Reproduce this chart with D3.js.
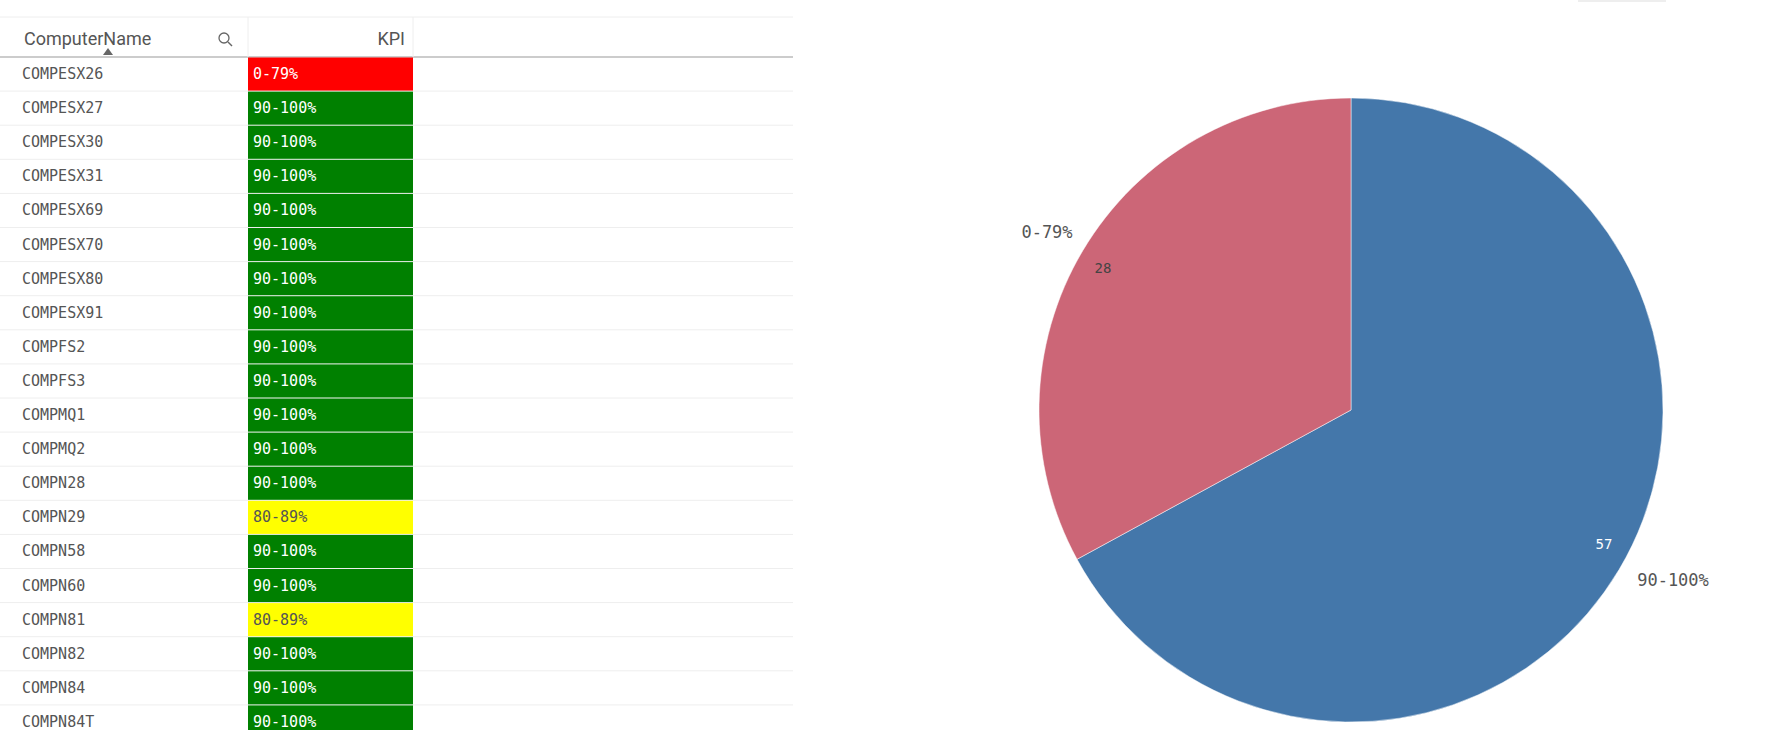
<!DOCTYPE html>
<html><head><meta charset="utf-8">
<script src="https://cdn.jsdelivr.net/npm/d3@7"></script>
<style>body{margin:0;background:#fff;overflow:hidden}</style>
</head><body>
<script>
var names = ['COMPESX26','COMPESX27','COMPESX30','COMPESX31','COMPESX69','COMPESX70','COMPESX80','COMPESX91','COMPFS2','COMPFS3','COMPMQ1','COMPMQ2','COMPN28','COMPN29','COMPN58','COMPN60','COMPN81','COMPN82','COMPN84','COMPN84T'];
var kpis = ['0-79%','90-100%','90-100%','90-100%','90-100%','90-100%','90-100%','90-100%','90-100%','90-100%','90-100%','90-100%','90-100%','80-89%','90-100%','90-100%','80-89%','90-100%','90-100%','90-100%'];
var kpiColors = {'0-79%':'#ff0000','80-89%':'#ffff00','90-100%':'#008000'};
var pieLabels = ['90-100%','0-79%'];
var pieValues = [57, 28];
var pieColors = ['#4477aa','#cc6677'];

var svg = d3.select('body').append('svg').attr('width',1780).attr('height',730);
var mono = 'DejaVu Sans Mono', sans = 'Roboto';

// table
var t = svg.append('g');
var rowH = 34.1, row0 = 57;
t.append('line').attr('x1',0).attr('x2',793).attr('y1',17).attr('y2',17).attr('stroke','#eee');
t.append('line').attr('x1',0).attr('x2',793).attr('y1',row0).attr('y2',row0).attr('stroke','#bbb').attr('stroke-width',1.5);
[248,413].forEach(function(x){ t.append('line').attr('x1',x).attr('x2',x).attr('y1',17).attr('y2',row0).attr('stroke','#eee'); });
t.append('text').attr('x',24).attr('y',45).attr('font-family',sans).attr('font-size',18).attr('fill','#555').text('ComputerName');
t.append('path').attr('d','M103,55 l5,-7 l5,7 z').attr('fill','#666');
t.append('circle').attr('cx',224).attr('cy',38).attr('r',5).attr('fill','none').attr('stroke','#666').attr('stroke-width',1.3);
t.append('line').attr('x1',228).attr('y1',42).attr('x2',232).attr('y2',46).attr('stroke','#666').attr('stroke-width',1.5);
t.append('text').attr('x',405).attr('y',45).attr('text-anchor','end').attr('font-family',sans).attr('font-size',18).attr('fill','#555').text('KPI');

var y = d3.scaleBand().domain(d3.range(names.length)).range([row0, row0 + rowH*names.length]);
var rows = t.selectAll('g.row').data(names).enter().append('g').attr('transform',function(d,i){return 'translate(0,'+y(i)+')';});
rows.append('line').attr('x1',0).attr('x2',793).attr('y1',rowH).attr('y2',rowH).attr('stroke','#eee');
rows.append('rect').attr('x',248).attr('y',0.5).attr('width',165).attr('height',rowH-1)
  .attr('fill',function(d,i){return kpiColors[kpis[i]];});
rows.append('text').attr('x',22).attr('y',rowH/2+5).attr('font-family',mono).attr('font-size',15).attr('fill','#555').text(function(d){return d;});
rows.append('text').attr('x',253).attr('y',rowH/2+5).attr('font-family',mono).attr('font-size',15)
  .attr('fill',function(d,i){return kpis[i]==='80-89%'?'#555':'#fff';}).text(function(d,i){return kpis[i];});

// pie
var cx = 1351, cy = 410, r = 312;
var pie = d3.pie().sort(null)(pieValues);
var arc = d3.arc().innerRadius(0).outerRadius(r);
var g = svg.append('g').attr('transform','translate('+cx+','+cy+')');
g.selectAll('path').data(pie).enter().append('path').attr('d',arc)
  .attr('fill',function(d,i){return pieColors[i];}).attr('stroke','#fff').attr('stroke-width',0.5);
svg.append('rect').attr('x',1578).attr('y',0).attr('width',88).attr('height',2).attr('fill','#eee');

// label positions relative to the pie centre
var valPos = [[253,139],[-248,-137]];
var labPos = [[322,176],[-304,-172]];
g.selectAll('text.val').data(pie).enter().append('text')
  .attr('x',function(d,i){return valPos[i][0];}).attr('y',function(d,i){return valPos[i][1];})
  .attr('text-anchor','middle').attr('font-family',mono).attr('font-size',14)
  .attr('fill',function(d,i){return i===0?'#fff':'#444';}).text(function(d){return d.data;});
g.selectAll('text.lab').data(pie).enter().append('text')
  .attr('x',function(d,i){return labPos[i][0];}).attr('y',function(d,i){return labPos[i][1];})
  .attr('text-anchor','middle').attr('font-family',mono).attr('font-size',17).attr('fill','#555')
  .text(function(d,i){return pieLabels[i];});
</script>
</body></html>
